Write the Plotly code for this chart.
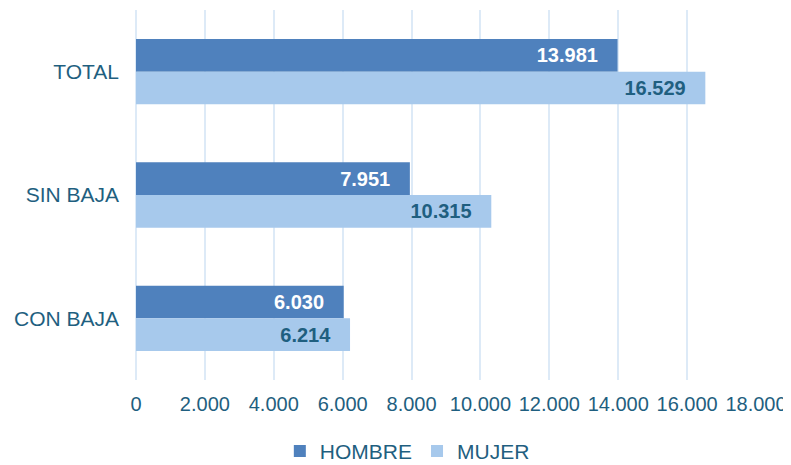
import plotly.graph_objects as go

categories = ["TOTAL", "SIN BAJA", "CON BAJA"]
hombre = [13981, 7951, 6030]
mujer = [16529, 10315, 6214]
tick_vals = [0, 2000, 4000, 6000, 8000, 10000, 12000, 14000, 16000, 18000]

txt = "#1F5F80"
FONT = "Liberation Sans"
fig = go.Figure()
fig.add_trace(go.Bar(y=categories, x=hombre, name="HOMBRE", orientation="h",
                     marker_color="#4F81BD", textposition="inside",
                     insidetextanchor="end",
                     textfont=dict(color="white", size=20, family=FONT)))
fig.add_trace(go.Bar(y=categories, x=mujer, name="MUJER", orientation="h",
                     marker_color="#A7C9EC", textposition="inside",
                     insidetextanchor="end",
                     textfont=dict(color=txt, size=20, family=FONT)))
fig.update_traces(texttemplate="<b>%{x:,.0f}</b>   ", marker_line_width=0)
fig.update_layout(
    width=783, height=457, barmode="group", bargap=0.47, bargroupgap=0,
    separators=",.",
    plot_bgcolor="white", paper_bgcolor="white",
    margin=dict(l=128, r=35, t=2, b=85, autoexpand=False),
    font=dict(family=FONT, size=20, color=txt),
    xaxis=dict(range=[0, 18000], tickvals=tick_vals, tickformat=",.0f",
               showgrid=True, gridcolor="#DDEAF7", gridwidth=2, zeroline=True,
               zerolinecolor="#DDEAF7", zerolinewidth=2, ticks="", ticklen=0,
               ticklabelstandoff=10,
               automargin=False, tickfont=dict(size=20, color=txt)),
    yaxis=dict(autorange="reversed", showgrid=False, ticks="", ticklabelstandoff=16,
               automargin=False, tickfont=dict(size=21, color=txt)),
    legend=dict(orientation="h", x=0.51, xanchor="center", xref="container",
                y=0.03, yanchor="middle", yref="container",
                font=dict(size=21, color=txt), traceorder="normal"),
)
fig.write_html("out.html")
